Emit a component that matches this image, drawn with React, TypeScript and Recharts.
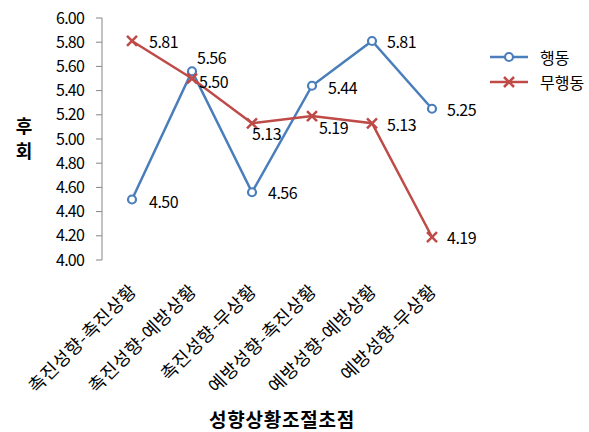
import React from 'react';
import {
  LineChart,
  Line,
  XAxis,
  YAxis,
  LabelList,
  Label,
} from 'recharts';

const categories = [
  '촉진성향-촉진상황',
  '촉진성향-예방상황',
  '촉진성향-무상황',
  '예방성향-촉진상황',
  '예방성향-예방상황',
  '예방성향-무상황',
];
const actionValues = [4.5, 5.56, 4.56, 5.44, 5.81, 5.25];
const noActionValues = [5.81, 5.5, 5.13, 5.19, 5.13, 4.19];
const yTicks = [4.0, 4.2, 4.4, 4.6, 4.8, 5.0, 5.2, 5.4, 5.6, 5.8, 6.0];
const boundaryTicks = [0, 1, 2, 3, 4, 5, 6];
const centerTicks = [0.5, 1.5, 2.5, 3.5, 4.5, 5.5];
const seriesNames = ['행동', '무행동'];

const BLUE = '#4A7EBB';
const RED = '#BE4B48';
const AXIS = '#868686';
const FONT = '"Noto Sans CJK KR", "Noto Sans", sans-serif';

// label nudges per point
const actionOffsets = [
  [17, 1], [5, -14], [16, 0], [16, 1], [15, 0], [15, 0],
];
const noActionOffsets = [
  [17, 0], [7, 2], [0, 10], [7, 11], [15, 1], [15, 0],
];

const data = categories.map((name, i) => ({
  x: i + 0.5,
  name,
  action: actionValues[i],
  noAction: noActionValues[i],
}));

const CircleDot = (props: any) => {
  const { cx, cy } = props;
  if (cx == null || cy == null) return null;
  return <circle cx={cx} cy={cy} r={4} fill="#fff" stroke={BLUE} strokeWidth={2.2} />;
};

const CrossDot = (props: any) => {
  const { cx, cy } = props;
  if (cx == null || cy == null) return null;
  const s = 5;
  return (
    <path
      d={`M${cx - s},${cy - s}L${cx + s},${cy + s}M${cx + s},${cy - s}L${cx - s},${cy + s}`}
      stroke={RED}
      strokeWidth={2.5}
      fill="none"
    />
  );
};

const makeLabel = (offsets: number[][]) => (props: any) => {
  const { x, y, value, index } = props;
  const [dx, dy] = offsets[index] || [15, 0];
  return (
    <text
      x={x + dx}
      y={y + dy}
      dominantBaseline="central"
      textAnchor="start"
      fontSize={16}
      fontFamily={FONT}
      letterSpacing={-0.5}
      fill="#000"
    >
      {Number(value).toFixed(2)}
    </text>
  );
};

const CategoryTick = (props: any) => {
  const { x, y, payload } = props;
  const idx = Math.floor(payload.value);
  return (
    <text
      transform={`translate(${x + 6},${y + 24}) rotate(-45)`}
      textAnchor="end"
      fontSize={18}
      fontFamily={FONT}
      letterSpacing={0.6}
      fill="#000"
    >
      {categories[idx]}
    </text>
  );
};

const LegendBox = () => {
  const colors = [BLUE, RED];
  return (
    <svg
      width={110}
      height={60}
      style={{ position: 'absolute', left: 484, top: 45 }}
    >
      {seriesNames.map((name, i) => {
        const cy = 12 + i * 25;
        const color = colors[i];
        return (
          <g key={name}>
            <line x1={6} x2={44} y1={cy} y2={cy} stroke={color} strokeWidth={2.5} />
            {i === 0 ? (
              <circle cx={25} cy={cy} r={4} fill="#fff" stroke={color} strokeWidth={2.2} />
            ) : (
              <path
                d={`M20,${cy - 5}L30,${cy + 5}M30,${cy - 5}L20,${cy + 5}`}
                stroke={color}
                strokeWidth={2.5}
              />
            )}
            <text
              x={56}
              y={cy}
              dominantBaseline="central"
              fontSize={16}
              fontFamily={FONT}
              fill="#000"
            >
              {name}
            </text>
          </g>
        );
      })}
    </svg>
  );
};

const YTitle = () => (
  <text fontSize={18} fontWeight="bold" fontFamily={FONT} fill="#000" textAnchor="middle">
    <tspan x={24} y={133}>후</tspan>
    <tspan x={24} y={158}>회</tspan>
  </text>
);

export default function App() {
  return (
    <div style={{ position: 'absolute', left: 0, top: 0, background: '#fff' }}>
      <LineChart
        width={589}
        height={432}
        data={data}
        margin={{ top: 18, right: 127, bottom: 0, left: 0 }}
      >
        <XAxis
          dataKey="x"
          type="number"
          domain={[0, 6]}
          ticks={boundaryTicks}
          tick={false}
          height={0}
          stroke={AXIS}
          tickLine={{ stroke: AXIS }}
          tickSize={6}
        />
        <XAxis
          xAxisId="lab"
          dataKey="x"
          type="number"
          domain={[0, 6]}
          ticks={centerTicks}
          tick={<CategoryTick />}
          axisLine={false}
          tickLine={false}
          height={172}
        >
          <Label
            value="성향상황조절초점"
            position="insideBottom"
            offset={5}
            fontSize={19}
            fontWeight="bold"
            fontFamily={FONT}
            letterSpacing={0.8}
            fill="#000"
          />
        </XAxis>
        <YAxis
          domain={[4, 6]}
          ticks={yTicks}
          width={102}
          stroke={AXIS}
          tickSize={6}
          tickMargin={12}
          tickFormatter={(v: number) => v.toFixed(2)}
          tick={{ fill: '#000', fontSize: 16, fontFamily: FONT, letterSpacing: -0.8 }}
          label={<YTitle />}
        />
        <Line
          dataKey="action"
          name={seriesNames[0]}
          stroke={BLUE}
          strokeWidth={2.5}
          dot={<CircleDot />}
          isAnimationActive={false}
        >
          <LabelList dataKey="action" content={makeLabel(actionOffsets)} />
        </Line>
        <Line
          dataKey="noAction"
          name={seriesNames[1]}
          stroke={RED}
          strokeWidth={2.5}
          dot={<CrossDot />}
          isAnimationActive={false}
        >
          <LabelList dataKey="noAction" content={makeLabel(noActionOffsets)} />
        </Line>
      </LineChart>
      <LegendBox />
    </div>
  );
}
